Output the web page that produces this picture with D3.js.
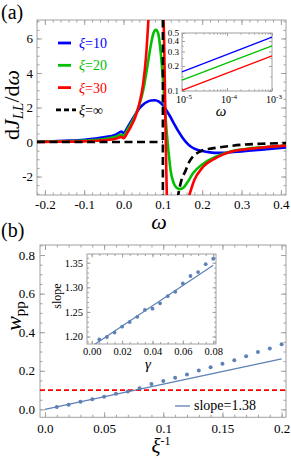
<!DOCTYPE html>
<html lang="en">
<head>
<meta charset="utf-8">
<title>dJ/dw and w_pp</title>
<script src="https://d3js.org/d3.v7.min.js"></script>
<style>
  body { margin: 0; background: #fff; }
  svg text { font-family: "Liberation Serif", "DejaVu Serif", serif; }
</style>
</head>
<body>
<div id="container"></div>
<script>
// ---------- panel (a): dJ_LL/dω curves
var omegaBlue = [-0.22, -0.2, -0.15, -0.1, -0.05, -0.02, -0.005, 0, 0.01, 0.02, 0.03, 0.04, 0.05, 0.06, 0.07, 0.08, 0.09, 0.1, 0.11, 0.12, 0.13, 0.14, 0.15, 0.16, 0.17, 0.18, 0.2, 0.22, 0.24, 0.26, 0.28, 0.3, 0.35, 0.413];
var xi10 = [0.02, 0.03, 0.07, 0.13, 0.27, 0.43, 0.6, 0.52, 0.85, 1.22, 1.6, 1.95, 2.18, 2.33, 2.41, 2.42, 2.34, 2.14, 1.8, 1.42, 1.0, 0.6, 0.25, -0.03, -0.24, -0.38, -0.52, -0.6, -0.63, -0.62, -0.58, -0.54, -0.44, -0.32];

var omegaGreen = [-0.22, -0.2, -0.15, -0.1, -0.05, -0.02, -0.005, 0, 0.01, 0.02, 0.03, 0.04, 0.05, 0.06, 0.07, 0.076, 0.082, 0.088, 0.094, 0.1, 0.105, 0.11, 0.115, 0.12, 0.127, 0.135, 0.143, 0.152, 0.162, 0.177, 0.2, 0.235, 0.27, 0.31, 0.36, 0.413];
var xi20 = [0.01, 0.02, 0.04, 0.08, 0.17, 0.3, 0.42, 0.36, 0.72, 1.1, 1.55, 2.15, 3.0, 4.3, 5.7, 6.3, 6.5, 6.3, 5.3, 3.7, 2.0, 0.5, -0.7, -1.7, -2.35, -2.65, -2.73, -2.65, -2.35, -1.8, -1.3, -0.85, -0.56, -0.4, -0.29, -0.2];

var omegaRed = [-0.22, -0.2, -0.15, -0.1, -0.05, -0.02, -0.005, 0, 0.01, 0.02, 0.03, 0.04, 0.05, 0.057, 0.063, 0.07, 0.08, 0.09, 0.096, 0.1, 0.103, 0.106, 0.109, 0.112, 0.12, 0.135, 0.15, 0.167, 0.18, 0.2, 0.235, 0.27, 0.31, 0.36, 0.413];
var xi30 = [0.0, 0.01, 0.02, 0.04, 0.1, 0.19, 0.3, 0.22, 0.55, 0.95, 1.45, 2.2, 3.4, 4.9, 7.0, 10, 13, 13, 10, 8.5, 6, 2, -2, -5, -8, -6.5, -4.5, -3.1, -2.2, -1.5, -0.92, -0.58, -0.42, -0.3, -0.21];

var omegaInfLeft = [-0.22, 0.1];
var xiInfLeft = [0, 0];
var omegaPole = 0.1;
var omegaInfRight = [0.137, 0.142, 0.148, 0.157, 0.167, 0.177, 0.19, 0.2, 0.225, 0.25, 0.3, 0.35, 0.413];
var xiInfRight = [-3.3, -2.7, -2.15, -1.7, -1.15, -0.83, -0.6, -0.49, -0.37, -0.29, -0.16, -0.1, -0.06];

var legendA = ["10", "20", "30", "\u221E"];
var colorsA = ["#0000ff", "#00c000", "#ff0000", "#000000"];

var aXTicks = [-0.2, -0.1, 0, 0.1, 0.2, 0.3, 0.4];
var aXLabels = ["-0.2", "-0.1", "0.0", "0.1", "0.2", "0.3", "0.4"];
var aYTicks = [-2, 0, 2, 4, 6];
var aYLabels = ["-2", "0", "2", "4", "6"];

// inset (a): log-log
var insetOmega = [1e-5, 1e-3];
var insetBlue = [0.17, 0.445];
var insetGreen = [0.135, 0.35];
var insetRed = [0.102, 0.265];
var insetXTicks = [1e-5, 1e-4, 1e-3];
var insetXExp = ["-5", "-4", "-3"];
var insetYTicks = [0.1, 0.2, 0.3, 0.4, 0.5];
var insetYLabels = ["0.1", "0.2", "0.3", "0.4", "0.5"];

// ---------- panel (b): w_pp vs 1/xi
var invXi = [0.01, 0.02, 0.03, 0.04, 0.05, 0.06, 0.07, 0.08, 0.09, 0.1, 0.11, 0.12, 0.13, 0.14, 0.15, 0.16, 0.17, 0.18, 0.19, 0.2];
var wpp = [0.013, 0.024, 0.039, 0.052, 0.065, 0.081, 0.093, 0.109, 0.131, 0.147, 0.164, 0.181, 0.202, 0.218, 0.236, 0.255, 0.276, 0.297, 0.316, 0.338];
var fitX = [0, 0.2];
var fitY = [0, 0.262];
var thresholdW = 0.1;
var bXTicks = [0, 0.05, 0.1, 0.15, 0.2];
var bXLabels = ["0.0", "0.05", "0.1", "0.15", "0.2"];
var bYTicks = [0, 0.2, 0.4, 0.6, 0.8];
var bYLabels = ["0.0", "0.2", "0.4", "0.6", "0.8"];

// inset (b): slope vs gamma
var gamma = [0.005, 0.01, 0.015, 0.02, 0.025, 0.03, 0.035, 0.04, 0.045, 0.05, 0.055, 0.06, 0.065, 0.07, 0.075, 0.08];
var slope = [1.194, 1.199, 1.208, 1.220, 1.2295, 1.240, 1.254, 1.2565, 1.2675, 1.282, 1.291, 1.308, 1.323, 1.331, 1.347, 1.358];
var slopeFitX = [0, 0.08];
var slopeFitY = [1.18, 1.345];
var iXTicks = [0, 0.02, 0.04, 0.06, 0.08];
var iXLabels = ["0.00", "0.02", "0.04", "0.06", "0.08"];
var iYTicks = [1.2, 1.25, 1.3, 1.35];
var iYLabels = ["1.20", "1.25", "1.30", "1.35"];

var W = 291, H = 459;
var blueB = "#5e81b5";
var frameCol = "#a0a0a0";

var svg = d3.select("#container").append("svg")
  .attr("width", W).attr("height", H);

function range(a, b, step) {
  var out = [];
  for (var v = a; v <= b + step / 1000; v += step) out.push(+v.toFixed(6));
  return out;
}

// Mathematica-like frame: ticks inward on all four sides
function drawFrame(g, x, y, o) {
  var x0 = x.range()[0], x1 = x.range()[1], y0 = y.range()[0], y1 = y.range()[1];
  var sides = [
    {axis: d3.axisBottom, s: x, t: "translate(0," + y0 + ")", major: o.xMajor, minor: o.xMinor, labels: o.xLabels, pad: o.xPad},
    {axis: d3.axisTop, s: x, t: "translate(0," + y1 + ")", major: o.xMajor, minor: o.xMinor},
    {axis: d3.axisLeft, s: y, t: "translate(" + x0 + ",0)", major: o.yMajor, minor: o.yMinor, labels: o.yLabels, pad: o.yPad},
    {axis: d3.axisRight, s: y, t: "translate(" + x1 + ",0)", major: o.yMajor, minor: o.yMinor}
  ];
  sides.forEach(function(sd) {
    var minor = sd.axis(sd.s).tickValues(sd.minor).tickSizeInner(-o.minorLen).tickSizeOuter(0).tickFormat("");
    var gm = g.append("g").attr("transform", sd.t).call(minor);
    gm.select(".domain").remove();
    gm.selectAll(".tick line").attr("stroke", frameCol);

    var major = sd.axis(sd.s).tickValues(sd.major).tickSizeInner(-o.majorLen).tickSizeOuter(0)
      .tickPadding(sd.pad || 0)
      .tickFormat(function(d, i) { return sd.labels ? sd.labels[i] : ""; });
    var gM = g.append("g").attr("transform", sd.t).call(major)
      .attr("font-family", "Liberation Serif, serif").attr("font-size", o.fs);
    gM.select(".domain").remove();
    gM.selectAll(".tick line").attr("stroke", frameCol);
    gM.selectAll(".tick text").attr("fill", "#000");
  });
  g.append("rect")
    .attr("x", x0).attr("y", y1).attr("width", x1 - x0).attr("height", y0 - y1)
    .attr("fill", "none").attr("stroke", frameCol).attr("stroke-width", 1);
}

// ================= panel (a)
var ax = d3.scaleLinear().domain([-0.22, 0.413]).range([37, 286]);
var ay = d3.scaleLinear().domain([-3.07, 7.07]).range([195, 20]);
var gA = svg.append("g");

drawFrame(gA, ax, ay, {
  xMajor: aXTicks, xMinor: range(-0.22, 0.4, 0.02), xLabels: aXLabels, xPad: 5,
  yMajor: aYTicks, yMinor: range(-3, 7, 0.5), yLabels: aYLabels, yPad: 4,
  majorLen: 5, minorLen: 2.5, fs: 13
});

svg.append("clipPath").attr("id", "clipA").append("rect")
  .attr("x", 37).attr("y", 20).attr("width", 249).attr("height", 175);
var plotA = gA.append("g").attr("clip-path", "url(#clipA)");

var lineA = d3.line().x(function(d) { return ax(d[0]); }).y(function(d) { return ay(d[1]); })
  .curve(d3.curveMonotoneX);

[[omegaBlue, xi10], [omegaGreen, xi20], [omegaRed, xi30]].forEach(function(s, i) {
  plotA.append("path").datum(d3.zip(s[0], s[1]))
    .attr("d", lineA).attr("fill", "none")
    .attr("stroke", colorsA[i]).attr("stroke-width", 2.6);
});
[d3.zip(omegaInfLeft, xiInfLeft), [[omegaPole, -3.5], [omegaPole, 7.5]], d3.zip(omegaInfRight, xiInfRight)]
  .forEach(function(seg) {
    plotA.append("path").datum(seg)
      .attr("d", lineA).attr("fill", "none")
      .attr("stroke", "#000").attr("stroke-width", 2.6)
      .attr("stroke-dasharray", "8,4.5");
  });

// legend (a)
legendA.forEach(function(lbl, i) {
  var yy = 43 + i * 22.3;
  gA.append("line")
    .attr("x1", i === 3 ? 56 : 58).attr("x2", i === 3 ? 76 : 71)
    .attr("y1", yy).attr("y2", yy)
    .attr("stroke", colorsA[i]).attr("stroke-width", 2.8)
    .attr("stroke-dasharray", i === 3 ? "5,3" : null);
  var t = gA.append("text").attr("x", 79).attr("y", yy + 5)
    .attr("font-size", 14).attr("fill", colorsA[i]);
  t.append("tspan").attr("font-style", "italic").text("\u03BE");
  t.append("tspan").text("=" + lbl);
});

// inset (a)
var lx = d3.scaleLog().domain([1e-5, 1e-3]).range([182, 272]);
var ly = d3.scaleLog().domain([0.1, 0.5]).range([91, 33]);
var gI = gA.append("g");
var lxMinor = [];
[1e-5, 1e-4].forEach(function(dec) { for (var k = 2; k <= 9; k++) lxMinor.push(dec * k); });
drawFrame(gI, lx, ly, {
  xMajor: insetXTicks, xMinor: lxMinor, xLabels: null, xPad: 0,
  yMajor: insetYTicks, yMinor: [0.15, 0.25, 0.35, 0.45], yLabels: insetYLabels, yPad: 3,
  majorLen: 3, minorLen: 1.6, fs: 9
});
insetXTicks.forEach(function(v, i) {
  var t = gI.append("text").attr("x", lx(v) + 2).attr("y", 103)
    .attr("text-anchor", "middle").attr("font-size", 10);
  t.append("tspan").text("10");
  t.append("tspan").attr("dy", -4).attr("font-size", 7).text(insetXExp[i]);
});
gI.append("text").attr("x", 221).attr("y", 116).attr("text-anchor", "middle")
  .attr("font-size", 15).attr("font-style", "italic").text("\u03C9");
var lineI = d3.line().x(function(d) { return lx(d[0]); }).y(function(d) { return ly(d[1]); });
[insetBlue, insetGreen, insetRed].forEach(function(vals, i) {
  gI.append("path").datum(d3.zip(insetOmega, vals))
    .attr("d", lineI).attr("fill", "none")
    .attr("stroke", colorsA[i]).attr("stroke-width", 1.3);
});

// axis labels (a)
var yl = gA.append("text").attr("transform", "translate(19,105) rotate(-90)")
  .attr("text-anchor", "middle").attr("font-size", 22);
yl.append("tspan").text("d");
yl.append("tspan").attr("font-style", "italic").text("J");
yl.append("tspan").attr("font-style", "italic").attr("font-size", 15).attr("dy", 4).text("LL");
yl.append("tspan").attr("dy", -4).text("/d");
yl.append("tspan").attr("font-style", "italic").text("\u03C9");
gA.append("text").attr("x", 159).attr("y", 229).attr("text-anchor", "middle")
  .attr("font-size", 22).attr("font-style", "italic").text("\u03C9");
gA.append("text").attr("x", 1).attr("y", 19).attr("font-size", 20).text("(a)");

// ================= panel (b)
var bx = d3.scaleLinear().domain([-0.0042, 0.2037]).range([40, 286]);
var by = d3.scaleLinear().domain([-0.041, 0.852]).range([417.3, 245]);
var gB = svg.append("g");
drawFrame(gB, bx, by, {
  xMajor: bXTicks, xMinor: range(0, 0.2, 0.01), xLabels: bXLabels, xPad: 6,
  yMajor: bYTicks, yMinor: range(0, 0.85, 0.05), yLabels: bYLabels, yPad: 5,
  majorLen: 5, minorLen: 2.5, fs: 13
});

gB.append("line")
  .attr("x1", bx.range()[0]).attr("x2", bx.range()[1])
  .attr("y1", by(thresholdW)).attr("y2", by(thresholdW))
  .attr("stroke", "#ff0000").attr("stroke-width", 1.6).attr("stroke-dasharray", "5,3");

var lineB = d3.line().x(function(d) { return bx(d[0]); }).y(function(d) { return by(d[1]); });
gB.append("path").datum(d3.zip(fitX, fitY))
  .attr("d", lineB).attr("fill", "none").attr("stroke", blueB).attr("stroke-width", 1.3);
gB.selectAll("circle.pt").data(d3.zip(invXi, wpp)).enter().append("circle")
  .attr("class", "pt")
  .attr("cx", function(d) { return bx(d[0]); })
  .attr("cy", function(d) { return by(d[1]); })
  .attr("r", 2).attr("fill", blueB);

// legend (b)
gB.append("line").attr("x1", 175).attr("x2", 190).attr("y1", 406).attr("y2", 406)
  .attr("stroke", blueB).attr("stroke-width", 1.3);
gB.append("text").attr("x", 194).attr("y", 410).attr("font-size", 14).text("slope=1.38");

// inset (b)
var ix = d3.scaleLinear().domain([-0.0031, 0.0818]).range([87, 216]);
var iy = d3.scaleLinear().domain([1.1848, 1.3677]).range([344, 254]);
var gJ = gB.append("g");
gJ.append("rect").attr("x", 87).attr("y", 254).attr("width", 129).attr("height", 90).attr("fill", "#fff");
drawFrame(gJ, ix, iy, {
  xMajor: iXTicks, xMinor: range(0, 0.08, 0.005), xLabels: iXLabels, xPad: 4,
  yMajor: iYTicks, yMinor: range(1.19, 1.36, 0.01), yLabels: iYLabels, yPad: 4,
  majorLen: 3.5, minorLen: 2, fs: 10.5
});
svg.append("clipPath").attr("id", "clipJ").append("rect")
  .attr("x", 87).attr("y", 254).attr("width", 129).attr("height", 90);
var lineJ = d3.line().x(function(d) { return ix(d[0]); }).y(function(d) { return iy(d[1]); });
gJ.append("path").datum(d3.zip(slopeFitX, slopeFitY)).attr("clip-path", "url(#clipJ)")
  .attr("d", lineJ).attr("fill", "none").attr("stroke", blueB).attr("stroke-width", 1.2);
gJ.selectAll("circle.sp").data(d3.zip(gamma, slope)).enter().append("circle")
  .attr("class", "sp")
  .attr("cx", function(d) { return ix(d[0]); })
  .attr("cy", function(d) { return iy(d[1]); })
  .attr("r", 1.9).attr("fill", blueB);
gJ.append("text").attr("transform", "translate(61,296) rotate(-90)")
  .attr("text-anchor", "middle").attr("font-size", 12).text("slope");
gJ.append("text").attr("x", 148).attr("y", 369).attr("text-anchor", "middle")
  .attr("font-size", 15).attr("font-style", "italic").text("\u03B3");

// axis labels (b)
var wl = gB.append("text").attr("transform", "translate(21,316) rotate(-90)")
  .attr("text-anchor", "middle").attr("font-size", 22);
wl.append("tspan").attr("font-style", "italic").text("w");
wl.append("tspan").attr("font-size", 15).attr("dy", 4).text("pp");
var xl = gB.append("text").attr("x", 161).attr("y", 453).attr("text-anchor", "middle")
  .attr("font-size", 21);
xl.append("tspan").attr("font-style", "italic").text("\u03BE");
xl.append("tspan").attr("font-size", 12).attr("dy", -8).text("-1");
gB.append("text").attr("x", 1).attr("y", 237).attr("font-size", 20).text("(b)");
</script>
</body>
</html>
